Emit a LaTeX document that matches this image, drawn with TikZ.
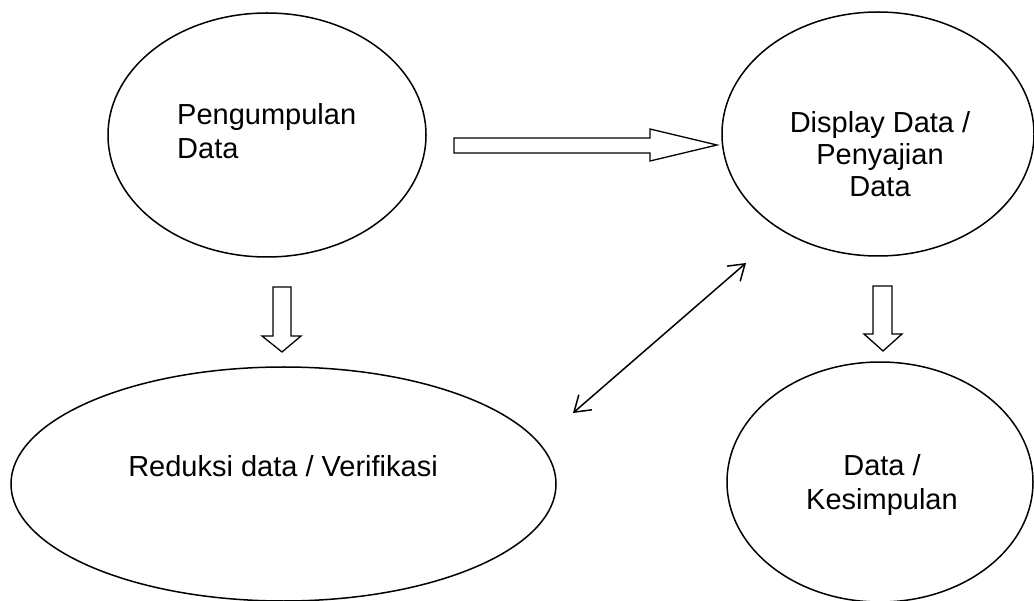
\documentclass[tikz,border=0pt]{standalone}
\usepackage{fontspec}
\setmainfont{Liberation Sans}
\usetikzlibrary{shapes.geometric,arrows.meta}
\tikzset{
  ell/.style={ellipse, draw=black, line width=1.5pt, inner sep=0pt},
  lbl/.style={inner sep=0pt, font=\fontsize{29}{34}\selectfont},
  blockarrow/.style={draw=black, fill=white, line width=1.3pt, line join=miter},
  dbl/.style={draw=black, line width=1.5pt, {Straight Barb[length=15pt,width=20pt]}-{Straight Barb[length=15pt,width=20pt]}}
}
\begin{document}
\begin{tikzpicture}[x=1pt,y=-1pt]
\useasboundingbox (0,0) rectangle (1034,601);
\fill[white] (0,0) rectangle (1034,601);
% ellipses
\node[ell, minimum width=318pt, minimum height=244pt] (pd) at (267,135) {};
\node[ell, minimum width=312pt, minimum height=244pt] (dd) at (878,134) {};
\node[ell, minimum width=545pt, minimum height=234pt] (rd) at (283.5,484) {};
\node[ell, minimum width=306pt, minimum height=240pt] (ks) at (880,482) {};
% labels
\node[lbl, anchor=north west, align=left] (tpd) at (177,103) {Pengumpulan\\Data};
\node[lbl, anchor=north, align=center, font=\fontsize{29}{32}\selectfont] (tdd) at (880,111) {Display Data /\\Penyajian\\Data};
\node[lbl, anchor=north] (trd) at (283,455) {Reduksi data / Verifikasi};
\node[lbl, anchor=north, align=center] (tks) at (882,454) {Data /\\Kesimpulan};
% block arrows
\draw[blockarrow] (454,138) -- (650,138) -- (650,129) -- (717,145) -- (650,161) -- (650,153) -- (454,153) -- cycle;
\draw[blockarrow] (273,287) -- (291,287) -- (291,336) -- (301,336) -- (282,352) -- (262,336) -- (273,336) -- cycle;
\draw[blockarrow] (873,286) -- (892,286) -- (892,334) -- (902,334) -- (883,351) -- (864,334) -- (873,334) -- cycle;
% double arrow
\coordinate (da) at (746,263);
\coordinate (db) at (573,413);
\draw[dbl] (db) -- (da);
\end{tikzpicture}
\end{document}
